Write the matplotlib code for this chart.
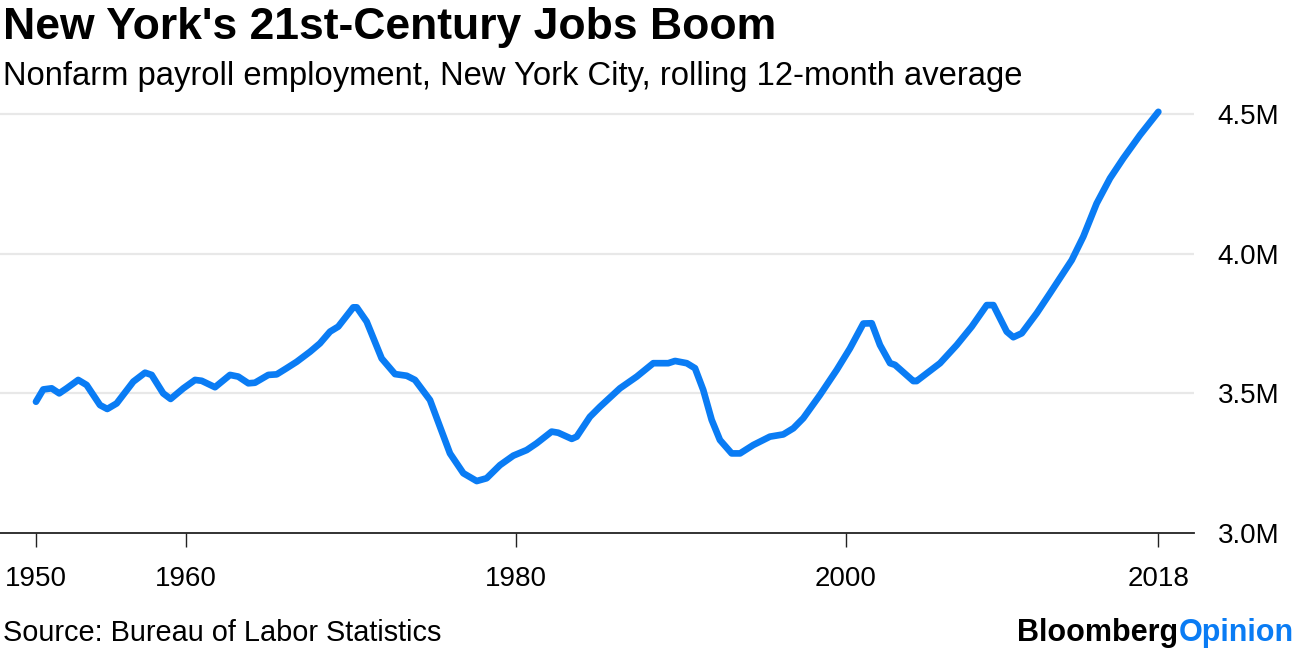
import matplotlib
matplotlib.use("Agg")
import matplotlib.pyplot as plt

plt.rcParams["font.family"] = ["Liberation Sans", "DejaVu Sans"]

# rolling 12-month average, millions of jobs
years = [
    1950.91, 1951.35, 1951.86, 1952.32, 1952.77, 1953.47, 1953.98, 1954.79, 1955.23, 1955.80,
    1956.81, 1957.52, 1957.92, 1958.62, 1959.07, 1959.84, 1960.55, 1960.95, 1961.76, 1962.67,
    1963.17, 1963.78, 1964.18, 1964.99, 1965.50, 1966.10, 1966.71, 1967.52, 1968.12, 1968.73,
    1969.23, 1970.14, 1970.35, 1970.95, 1971.86, 1972.67, 1973.38, 1973.88, 1974.79, 1975.39,
    1976.00, 1976.81, 1977.62, 1978.22, 1979.03, 1979.84, 1980.65, 1981.25, 1982.16, 1982.56,
    1983.38, 1983.68, 1984.48, 1985.09, 1986.30, 1987.32, 1988.32, 1989.23, 1989.64, 1990.35,
    1990.85, 1991.35, 1991.86, 1992.36, 1993.07, 1993.58, 1994.38, 1995.39, 1996.20, 1996.81,
    1997.41, 1998.42, 1999.44, 2000.24, 2001.05, 2001.56, 2002.06, 2002.67, 2002.97, 2004.08,
    2004.28, 2005.70, 2006.71, 2007.62, 2008.53, 2008.93, 2009.74, 2010.14, 2010.65, 2011.56,
    2012.36, 2013.68, 2014.38, 2015.19, 2016.00, 2016.81, 2017.82, 2018.93,
]
jobs = [
    3.470, 3.514, 3.518, 3.500, 3.518, 3.548, 3.530, 3.458, 3.444, 3.464,
    3.542, 3.574, 3.566, 3.500, 3.480, 3.518, 3.548, 3.545, 3.522, 3.566,
    3.560, 3.536, 3.538, 3.566, 3.568, 3.590, 3.613, 3.649, 3.679, 3.721,
    3.739, 3.808, 3.808, 3.757, 3.625, 3.569, 3.563, 3.548, 3.476, 3.381,
    3.285, 3.214, 3.186, 3.196, 3.243, 3.277, 3.297, 3.321, 3.363, 3.359,
    3.337, 3.345, 3.416, 3.452, 3.518, 3.560, 3.608, 3.608, 3.616, 3.608,
    3.590, 3.512, 3.405, 3.333, 3.285, 3.285, 3.315, 3.345, 3.353, 3.375,
    3.411, 3.494, 3.584, 3.661, 3.750, 3.751, 3.673, 3.608, 3.602, 3.544,
    3.544, 3.608, 3.673, 3.739, 3.816, 3.816, 3.721, 3.701, 3.715, 3.787,
    3.858, 3.977, 4.061, 4.180, 4.270, 4.342, 4.425, 4.508,
]
x_ticks = [years[0], 1960, 1980, 2000, years[-1]]
x_labels = ["1950", "1960", "1980", "2000", "2018"]
y_ticks = [3.0, 3.5, 4.0, 4.5]
y_labels = ["3.0M", "3.5M", "4.0M", "4.5M"]

fig = plt.figure(figsize=(12.96, 6.5), dpi=100)
ax = fig.add_axes([0.0, 0.18, 1194 / 1296, 0.666])

ax.plot(years, jobs, color="#0a7cf4", lw=4.8, solid_capstyle="round",
        solid_joinstyle="round", zorder=3)

ax.set_xlim(1948.73, 2021.09)
ax.set_ylim(3.0, 4.55)

for v in y_ticks[1:]:
    ax.axhline(v, color="#e8e8e8", lw=1.6, zorder=1)

for s in ["top", "left", "right"]:
    ax.spines[s].set_visible(False)
ax.spines["bottom"].set_color("#222222")
ax.spines["bottom"].set_linewidth(1.3)

ax.set_xticks(x_ticks)
ax.set_xticklabels(x_labels)
ax.tick_params(axis="x", direction="out", length=10, width=1, color="#222222",
               labelsize=20, pad=14)

ax.yaxis.tick_right()
ax.set_yticks(y_ticks)
ax.set_yticklabels(y_labels)
ax.tick_params(axis="y", length=0, labelsize=20, pad=17)

fig.text(0.002, 0.958, "New York's 21st-Century Jobs Boom", fontsize=32,
         fontweight="bold", va="center", ha="left")
fig.text(0.002, 0.883, "Nonfarm payroll employment, New York City, rolling 12-month average",
         fontsize=23.6, va="center", ha="left")
fig.text(0.002, 0.026, "Source: Bureau of Labor Statistics", fontsize=20.8,
         va="center", ha="left")

op = fig.text(0.998, 0.026, "Opinion", fontsize=22, fontweight="bold",
              color="#0a7cf4", va="center", ha="right")
ax.annotate("Bloomberg", xy=(0, 0), xycoords=op, fontsize=22, fontweight="bold",
            color="black", ha="right", va="bottom", annotation_clip=False)

fig.savefig("out.png", dpi=100)
